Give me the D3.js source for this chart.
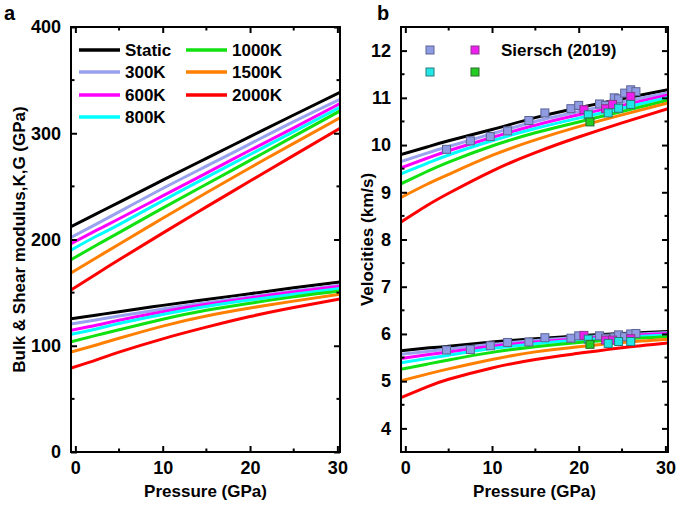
<!DOCTYPE html>
<html lang="en">
<head>
<meta charset="UTF-8">
<title>Moduli and velocities vs pressure</title>
<style>
  body { margin: 0; background: #fff; }
  svg text { font-family: "Liberation Sans", Arial, sans-serif; font-weight: bold; fill: #000; }
</style>
</head>
<body>
<div id="chart"></div>
<script src="https://cdn.jsdelivr.net/npm/d3@7"></script>
<script>
// ---- data ----
var pressures = [-0.5, 2.5, 5, 10, 15, 20, 25, 30.3];
var seriesNames = ['Static', '300K', '600K', '800K', '1000K', '1500K', '2000K'];
var seriesColors = ['#000000', '#98a2ee', '#ff00ff', '#00ffff', '#11e011', '#ff8000', '#ff0000'];

// bulk modulus K (GPa)
var kStatic = [212, 224.6, 235, 255.8, 276.4, 296.8, 317.2, 338.5];
var k300 = [202, 215, 226, 248, 269, 290, 311, 332];
var k600 = [196, 209, 219.5, 241, 262.5, 284, 305, 328];
var k800 = [190, 203.5, 214, 236.5, 258.5, 280, 301.5, 324.5];
var k1000 = [181, 195, 206.5, 229.5, 252, 274.5, 297, 321];
var k1500 = [168.5, 183.3, 195.5, 220, 244, 267.5, 290.5, 314.5];
var k2000 = [152.5, 168.1, 180.9, 206, 230.7, 255, 279.2, 304.6];

// shear modulus G (GPa)
var gStatic = [125.5, 129, 132, 138, 143.5, 149, 154.5, 160];
var g300 = [120.5, 124.5, 128, 134.5, 140.5, 146, 151.5, 157];
var g600 = [114.5, 119.5, 124, 132, 139, 145, 150.5, 156];
var g800 = [110.7, 116, 121, 129.5, 137, 143, 148.5, 154];
var g1000 = [103.8, 110, 115, 125, 133.5, 140, 146, 151.5];
var g1500 = [94, 101, 107, 118.5, 128, 135.5, 142, 148.5];
var g2000 = [79, 87, 94, 106.5, 117.5, 127.5, 136, 144];

// Vp (km/s)
var vpStatic = [9.80, 9.96, 10.09, 10.33, 10.58, 10.79, 10.98, 11.17];
var vp300 = [9.65, 9.83, 9.97, 10.24, 10.50, 10.71, 10.91, 11.11];
var vp600 = [9.52, 9.72, 9.88, 10.16, 10.42, 10.64, 10.84, 11.06];
var vp800 = [9.39, 9.61, 9.79, 10.09, 10.35, 10.57, 10.78, 11.01];
var vp1000 = [9.18, 9.44, 9.64, 9.98, 10.26, 10.49, 10.71, 10.95];
var vp1500 = [8.89, 9.17, 9.38, 9.78, 10.11, 10.39, 10.64, 10.89];
var vp2000 = [8.37, 8.72, 8.98, 9.45, 9.84, 10.17, 10.47, 10.77];

// Vs (km/s)
var vsStatic = [5.645, 5.70, 5.74, 5.83, 5.90, 5.96, 6.01, 6.05];
var vs300 = [5.57, 5.63, 5.68, 5.78, 5.86, 5.93, 5.98, 6.03];
var vs600 = [5.48, 5.56, 5.62, 5.74, 5.83, 5.90, 5.96, 6.01];
var vs800 = [5.39, 5.48, 5.55, 5.69, 5.79, 5.87, 5.93, 5.98];
var vs1000 = [5.25, 5.36, 5.45, 5.61, 5.73, 5.82, 5.89, 5.94];
var vs1500 = [5.01, 5.15, 5.26, 5.46, 5.62, 5.73, 5.82, 5.89];
var vs2000 = [4.65, 4.88, 5.04, 5.28, 5.46, 5.59, 5.71, 5.81];

// Siersch (2019) measurements
var sierschLavP = [4.75, 7.5, 9.8, 11.8, 14.25, 16.1, 19.1, 20.0, 22.4, 23.1, 24.1, 24.6, 25.3, 26.0, 26.6];
var sierschLavVp = [9.91, 10.09, 10.18, 10.30, 10.52, 10.68, 10.77, 10.84, 10.87, 10.84, 11.00, 10.98, 11.10, 11.17, 11.13];
var sierschLavVs = [5.66, 5.67, 5.75, 5.82, 5.83, 5.92, 5.91, 5.96, 5.96, 5.91, 5.93, 5.98, 5.94, 6.00, 6.01];
var sierschMagP = [20.6, 23.1, 23.9, 26.0];
var sierschMagVp = [10.75, 10.77, 10.86, 11.03];
var sierschMagVs = [5.97, 5.87, 5.87, 5.90];
var sierschCyanP = [21.1, 23.4, 24.6, 26.0];
var sierschCyanVp = [10.64, 10.68, 10.78, 10.86];
var sierschCyanVs = [5.89, 5.80, 5.84, 5.84];
var sierschGreenP = [21.3];
var sierschGreenVp = [10.49];
var sierschGreenVs = [5.78];

var xTicks = [0, 10, 20, 30];
var xMinor = [5, 15, 25];
var aTicks = [0, 100, 200, 300, 400];
var aMinor = [50, 150, 250, 350];
var bTicks = [4, 5, 6, 7, 8, 9, 10, 11, 12];
var bMinor = [3.5, 4.5, 5.5, 6.5, 7.5, 8.5, 9.5, 10.5, 11.5];

var kSeries = [kStatic, k300, k600, k800, k1000, k1500, k2000];
var gSeries = [gStatic, g300, g600, g800, g1000, g1500, g2000];
var vpSeries = [vpStatic, vp300, vp600, vp800, vp1000, vp1500, vp2000];
var vsSeries = [vsStatic, vs300, vs600, vs800, vs1000, vs1500, vs2000];

// ---- svg ----
var W = 676, H = 508;
var svg = d3.select('#chart').append('svg')
  .attr('width', W).attr('height', H);

var plotTop = 27, plotBottom = 452;

function makePanel(id, left, right, yDomain, ticks, minor, lineGroups, yLabel, labelOffset) {
  var x = d3.scaleLinear().domain([-0.5, 30.3]).range([left, right]);
  var y = d3.scaleLinear().domain(yDomain).range([plotBottom, plotTop]);
  var g = svg.append('g');

  svg.append('clipPath').attr('id', 'clip-' + id)
    .append('rect').attr('x', left).attr('y', plotTop)
    .attr('width', right - left).attr('height', plotBottom - plotTop);

  var line = d3.line()
    .x(function (d, i) { return x(pressures[i]); })
    .y(function (d) { return y(d); })
    .curve(d3.curveNatural);

  var plot = g.append('g').attr('clip-path', 'url(#clip-' + id + ')');
  lineGroups.forEach(function (group) {
    group.forEach(function (vals, i) {
      plot.append('path')
        .attr('d', line(vals))
        .attr('fill', 'none')
        .attr('stroke', seriesColors[i])
        .attr('stroke-width', 3);
    });
  });

  // axes: inward ticks on all four sides
  var bottomAx = d3.axisBottom(x).tickValues(xTicks).tickSizeInner(-6).tickSizeOuter(0).tickPadding(9).tickFormat(d3.format('d'));
  var topAx = d3.axisTop(x).tickValues(xTicks).tickSizeInner(-6).tickSizeOuter(0).tickFormat('');
  var leftAx = d3.axisLeft(y).tickValues(ticks).tickSizeInner(-6).tickSizeOuter(0).tickPadding(10).tickFormat(d3.format('d'));
  var rightAx = d3.axisRight(y).tickValues(ticks).tickSizeInner(-6).tickSizeOuter(0).tickFormat('');

  var axes = [
    g.append('g').attr('transform', 'translate(0,' + plotBottom + ')').call(bottomAx),
    g.append('g').attr('transform', 'translate(0,' + plotTop + ')').call(topAx),
    g.append('g').attr('transform', 'translate(' + left + ',0)').call(leftAx),
    g.append('g').attr('transform', 'translate(' + right + ',0)').call(rightAx)
  ];
  axes.forEach(function (a) {
    a.select('.domain').remove();
    a.selectAll('line').attr('stroke', '#000').attr('stroke-width', 2);
    a.selectAll('text').attr('font-size', 18).attr('font-family', '"Liberation Sans", Arial, sans-serif').attr('font-weight', 'bold');
  });

  // minor ticks
  xMinor.forEach(function (v) {
    g.append('line').attr('x1', x(v)).attr('x2', x(v)).attr('y1', plotBottom).attr('y2', plotBottom - 3.5)
      .attr('stroke', '#000').attr('stroke-width', 2);
    g.append('line').attr('x1', x(v)).attr('x2', x(v)).attr('y1', plotTop).attr('y2', plotTop + 3.5)
      .attr('stroke', '#000').attr('stroke-width', 2);
  });
  minor.forEach(function (v) {
    if (v <= yDomain[0] || v >= yDomain[1]) return;
    g.append('line').attr('x1', left).attr('x2', left + 3.5).attr('y1', y(v)).attr('y2', y(v))
      .attr('stroke', '#000').attr('stroke-width', 2);
    g.append('line').attr('x1', right).attr('x2', right - 3.5).attr('y1', y(v)).attr('y2', y(v))
      .attr('stroke', '#000').attr('stroke-width', 2);
  });

  // frame
  g.append('rect').attr('x', left).attr('y', plotTop)
    .attr('width', right - left).attr('height', plotBottom - plotTop)
    .attr('fill', 'none').attr('stroke', '#000').attr('stroke-width', 2);

  g.append('text').attr('x', (left + right) / 2).attr('y', 497)
    .attr('text-anchor', 'middle').attr('font-size', 17).text('Pressure (GPa)');
  g.append('text')
    .attr('transform', 'translate(' + (left - labelOffset) + ',' + ((plotTop + plotBottom) / 2) + ') rotate(-90)')
    .attr('text-anchor', 'middle').attr('dy', '0.35em').attr('font-size', 17).text(yLabel);

  return { x: x, y: y, g: g };
}

var pa = makePanel('a', 71, 340, [0, 400], aTicks, aMinor, [kSeries, gSeries], 'Bulk & Shear modulus,K,G (GPa)', 52);
var pb = makePanel('b', 401, 668, [3.5, 12.5], bTicks, bMinor, [vpSeries, vsSeries], 'Velocities (km/s)', 34);

svg.append('text').attr('x', 4).attr('y', 20).attr('font-size', 20).text('a');
svg.append('text').attr('x', 377).attr('y', 20).attr('font-size', 20).text('b');

// legend for panel a
var legendPos = [[79, 50], [79, 72], [79, 95], [79, 117], [186, 50], [186, 72], [186, 95]];
seriesNames.forEach(function (name, i) {
  var p = legendPos[i];
  pa.g.append('line').attr('x1', p[0]).attr('x2', p[0] + 41).attr('y1', p[1]).attr('y2', p[1])
    .attr('stroke', seriesColors[i]).attr('stroke-width', 3.5);
  pa.g.append('text').attr('x', p[0] + 46).attr('y', p[1]).attr('dy', '0.35em')
    .attr('font-size', 17).text(name);
});

// Siersch points
var markerSets = [
  { p: sierschLavP, vp: sierschLavVp, vs: sierschLavVs, fill: '#8f9be3', stroke: '#5c6494' },
  { p: sierschMagP, vp: sierschMagVp, vs: sierschMagVs, fill: '#ee1fee', stroke: '#8a3a8a' },
  { p: sierschCyanP, vp: sierschCyanVp, vs: sierschCyanVs, fill: '#22e6e6', stroke: '#2a7a7a' },
  { p: sierschGreenP, vp: sierschGreenVp, vs: sierschGreenVs, fill: '#22cc22', stroke: '#2a6a2a' }
];
var sq = 8;
markerSets.forEach(function (m) {
  [m.vp, m.vs].forEach(function (vals) {
    pb.g.selectAll(null).data(vals).enter().append('rect')
      .attr('x', function (d, i) { return pb.x(m.p[i]) - sq / 2; })
      .attr('y', function (d) { return pb.y(d) - sq / 2; })
      .attr('width', sq).attr('height', sq)
      .attr('fill', m.fill).attr('stroke', m.stroke).attr('stroke-width', 1);
  });
});

// legend for panel b
var bLegend = [[430, 50], [475, 50], [430, 72], [475, 72]];
markerSets.forEach(function (m, i) {
  pb.g.append('rect').attr('x', bLegend[i][0] - sq / 2).attr('y', bLegend[i][1] - sq / 2)
    .attr('width', sq).attr('height', sq)
    .attr('fill', m.fill).attr('stroke', m.stroke).attr('stroke-width', 1);
});
pb.g.append('text').attr('x', 501).attr('y', 50).attr('dy', '0.35em')
  .attr('font-size', 17).text('Siersch (2019)');
</script>
</body>
</html>
